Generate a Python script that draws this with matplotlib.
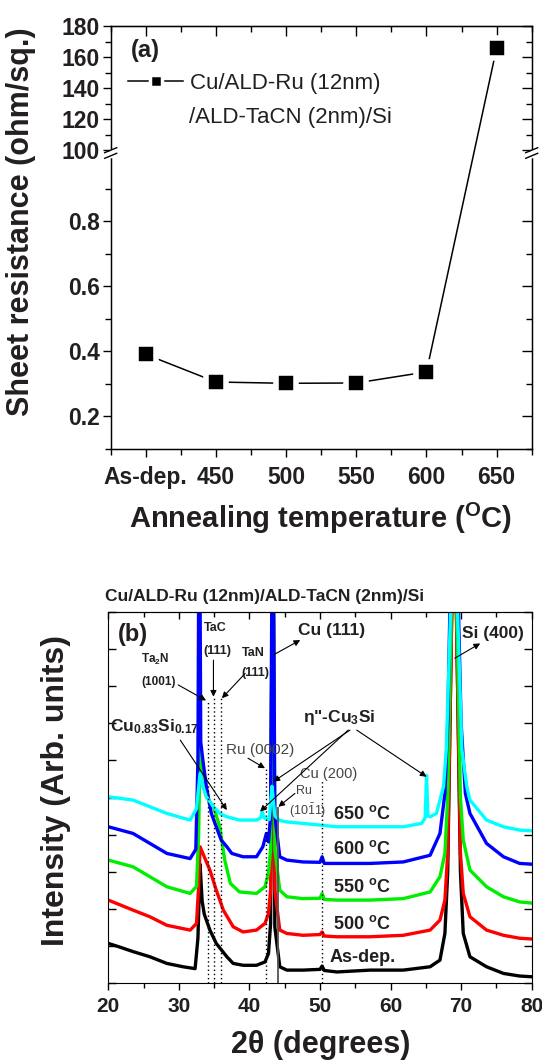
import numpy as np
import matplotlib
matplotlib.use('Agg')
import matplotlib.pyplot as plt
from matplotlib.lines import Line2D
from matplotlib.ticker import FixedLocator, MultipleLocator

plt.rcParams['font.family'] = ['Liberation Sans', 'DejaVu Sans']
plt.rcParams['mathtext.fontset'] = 'custom'
plt.rcParams['mathtext.default'] = 'regular'
plt.rcParams['mathtext.rm'] = 'Liberation Sans'
plt.rcParams['mathtext.bf'] = 'Liberation Sans:bold'

TXT = '#231f20'

# ---- panel (a): sheet resistance ----
temps = [400, 450, 500, 550, 600, 650]
temp_labels = ['As-dep.', '450', '500', '550', '600', '650']
rs = [0.391, 0.306, 0.302, 0.303, 0.337, 165.8]

# ---- panel (b): XRD scans (2theta, intensity offset units) ----
xrd_asdep = [(20.0, 1.06), (21.5, 0.97), (23.5, 0.84), (25.9, 0.70), (28.3, 0.52), (30.6, 0.43),
             (32.3, 0.38), (32.7, 1.2), (33.0, 3.2), (33.3, 2.2), (33.6, 1.85), (34.4, 1.42),
             (35.3, 1.06), (36.8, 0.70), (37.7, 0.52), (39.1, 0.47), (41.0, 0.47), (42.2, 0.56),
             (42.7, 0.79), (43.0, 1.6), (43.3, 14), (43.6, 1.5), (44.3, 0.43), (45.3, 0.34),
             (47.6, 0.34), (50.0, 0.36), (50.3, 0.45), (50.6, 0.33), (52.4, 0.29), (57.1, 0.34),
             (61.8, 0.34), (65.6, 0.43), (67.0, 0.61), (67.7, 1.33), (68.1, 3.0), (68.5, 8),
             (69.0, 14), (69.5, 8), (69.9, 3.0), (70.3, 1.33), (71.25, 0.70), (73.6, 0.43),
             (76.0, 0.25), (78.3, 0.18), (80.0, 0.16)]
xrd_500 = [(20.0, 2.23), (23.5, 1.96), (25.9, 1.78), (28.3, 1.55), (31.6, 1.42), (32.5, 1.6),
           (32.8, 2.6), (33.0, 3.67), (33.4, 3.49), (34.4, 3.04), (35.3, 2.5), (36.3, 1.96),
           (37.7, 1.51), (39.1, 1.37), (41.0, 1.42), (42.2, 1.6), (42.7, 1.87), (43.0, 2.5),
           (43.3, 14), (43.6, 2.5), (44.3, 1.42), (45.3, 1.33), (47.6, 1.28), (50.0, 1.30),
           (50.3, 1.37), (50.6, 1.26), (52.4, 1.24), (57.1, 1.24), (61.8, 1.28), (65.6, 1.42),
           (67.0, 1.69), (67.7, 2.23), (68.1, 3.5), (68.5, 8), (69.0, 14), (69.5, 8), (69.9, 3.5),
           (70.3, 2.41), (71.25, 1.78), (73.6, 1.42), (76.0, 1.28), (78.3, 1.2), (80.0, 1.18)]
xrd_550 = [(20.0, 3.31), (23.5, 3.13), (25.9, 2.86), (28.3, 2.59), (31.6, 2.41), (32.5, 2.6),
           (32.8, 4.0), (33.0, 6.28), (33.3, 5.4), (33.9, 5.02), (34.9, 4.75), (35.8, 4.21),
           (36.5, 3.31), (37.3, 2.68), (38.6, 2.45), (41.0, 2.41), (42.2, 2.59), (42.7, 2.95),
           (43.0, 3.6), (43.3, 14), (43.6, 3.6), (44.3, 2.5), (45.3, 2.32), (47.6, 2.27),
           (50.0, 2.28), (50.3, 2.41), (50.6, 2.25), (52.4, 2.23), (57.1, 2.23), (61.8, 2.27),
           (65.6, 2.45), (67.0, 2.86), (67.7, 3.49), (68.1, 5), (68.5, 9), (69.0, 14), (69.5, 9),
           (69.9, 5), (70.3, 3.85), (71.25, 3.04), (73.6, 2.59), (76.0, 2.32), (78.3, 2.18),
           (80.0, 2.15)]
xrd_600 = [(20.0, 4.21), (23.5, 4.03), (25.9, 3.76), (28.3, 3.49), (31.6, 3.35), (32.4, 3.6),
           (32.7, 6), (32.9, 15), (33.1, 6.5), (33.4, 6.01), (33.9, 5.29), (34.6, 4.57),
           (35.3, 4.21), (36.0, 3.85), (36.8, 3.67), (37.5, 3.49), (39.1, 3.40), (41.0, 3.40),
           (41.9, 3.67), (42.4, 4.03), (42.7, 3.8), (43.0, 4.5), (43.3, 15), (43.6, 4.5),
           (44.3, 3.4), (45.3, 3.31), (47.6, 3.26), (50.0, 3.25), (50.3, 3.40), (50.6, 3.22),
           (52.4, 3.22), (57.1, 3.22), (61.8, 3.26), (65.6, 3.44), (67.0, 4.03), (67.7, 5.11),
           (68.1, 7), (68.5, 11), (69.0, 15), (69.5, 11), (70.0, 7), (70.6, 5.11), (71.25, 4.57),
           (73.6, 3.76), (76.0, 3.4), (78.3, 3.22), (80.0, 3.2)]
xrd_650 = [(20.0, 5.02), (23.5, 4.93), (25.9, 4.75), (28.3, 4.57), (31.6, 4.39), (32.5, 4.7),
           (33.0, 5.65), (33.4, 5.3), (33.9, 5.02), (34.9, 4.75), (35.8, 4.57), (36.8, 4.48),
           (38.6, 4.39), (41.0, 4.39), (41.6, 4.45), (41.8, 4.62), (42.1, 4.45), (42.8, 4.4),
           (43.2, 5.3), (43.4, 4.9), (43.6, 4.5), (44.3, 4.38), (45.3, 4.34), (47.6, 4.3),
           (52.4, 4.21), (57.1, 4.21), (61.8, 4.21), (64.4, 4.3), (64.9, 4.45), (65.1, 5.6),
           (65.3, 4.5), (65.6, 4.48), (66.5, 4.57), (67.5, 5.29), (67.9, 6.3), (68.5, 10),
           (69.0, 15), (69.5, 10), (70.1, 6.3), (70.8, 5.29), (71.25, 4.93), (73.6, 4.39),
           (76.0, 4.21), (78.3, 4.12), (80.0, 4.1)]
scans = [xrd_asdep, xrd_500, xrd_550, xrd_600, xrd_650]
scan_colors = ['black', '#ff0000', '#00ee00', '#0000ff', '#00ffff']
scan_labels = ['As-dep.', '500 $^{o}$C', '550 $^{o}$C', '600 $^{o}$C', '650 $^{o}$C']
scan_label_y = [0.67, 1.59, 2.59, 3.61, 4.55]

# reference lines: Ta2N(1001), TaC(111), TaN(111), Ru(0002), Cu(200)
ref_pos = [34.1, 35.0, 36.0, 42.3, 50.3]
ref_top = [7.62, 7.72, 7.68, 5.8, 5.47]
ru1011_pos, ru1011_top = 44.1, 4.75

W, H = 542, 1061
fig = plt.figure(figsize=(W / 100, H / 100), dpi=100)


def fbox(l, t, r, b):
    return [l / W, 1 - b / H, (r - l) / W, (b - t) / H]


# ---------- panel (a) ----------
LO, GAP, K = 1.01, 0.0092, 0.004769


def fwd(y):
    y = np.asarray(y, float)
    return np.where(y <= LO, y,
                    np.where(y >= 100, LO + GAP + (y - 100) * K,
                             LO + (y - LO) / (100 - LO) * GAP))


def inv(z):
    z = np.asarray(z, float)
    return np.where(z <= LO, z,
                    np.where(z >= LO + GAP, 100 + (z - LO - GAP) / K,
                             LO + (z - LO) / GAP * (100 - LO)))


ymaj = [0.2, 0.4, 0.6, 0.8, 100, 120, 140, 160, 180]
ymin = [0.1, 0.3, 0.5, 0.7, 0.9, 110, 130, 150, 170]

ax1 = fig.add_axes(fbox(110.7, 26, 531.7, 449))
ax1.set_yscale('function', functions=(fwd, inv))
ax1.plot(temps, rs, '-', color='k', lw=1.1, marker='s', ms=14.5, mfc='k',
         mec='white', mew=4, zorder=3)
ax1.set_xlim(375, 675)
ax1.set_ylim(0.1, 180)
ax1.set_xticks(temps)
ax1.set_xticklabels(temp_labels)
ax1.xaxis.set_minor_locator(FixedLocator([375, 425, 475, 525, 575, 625, 675]))
ax1.yaxis.set_major_locator(FixedLocator(ymaj))
ax1.yaxis.set_minor_locator(FixedLocator(ymin))
ax1.set_yticklabels(['0.2', '0.4', '0.6', '0.8', '100', '120', '140', '160', '180'])
ax1.tick_params(which='both', direction='out', width=1, colors='k', labelcolor=TXT,
                labelsize=16.5, top=False, right=False)
ax1.tick_params(which='major', length=6)
ax1.tick_params(which='minor', length=4)
ax1.tick_params(axis='y', pad=2)
ax1.tick_params(axis='x', pad=6)
for lab in ax1.get_xticklabels() + ax1.get_yticklabels():
    lab.set_fontweight('bold')
for s in ax1.spines.values():
    s.set_linewidth(1.0)

ax1r = ax1.twinx()
ax1r.set_yscale('function', functions=(fwd, inv))
ax1r.set_ylim(0.1, 180)
ax1r.yaxis.set_major_locator(FixedLocator(ymaj))
ax1r.yaxis.set_minor_locator(FixedLocator(ymin))
ax1r.tick_params(axis='y', which='both', direction='in', labelright=False, width=1)
ax1r.tick_params(axis='y', which='major', length=7)
ax1r.tick_params(axis='y', which='minor', length=4)
ax1t = ax1.secondary_xaxis('top')
ax1t.set_xticks(temps)
ax1t.xaxis.set_minor_locator(FixedLocator([375, 425, 475, 525, 575, 625, 675]))
ax1t.tick_params(which='both', direction='in', labeltop=False, width=1)
ax1t.tick_params(which='major', length=7)
ax1t.tick_params(which='minor', length=4.5)

handle = Line2D([], [], color='k', lw=1.1, marker='s', ms=9, mfc='k', mec='white', mew=2.5)
ax1.legend([handle], ['Cu/ALD-Ru (12nm)'], loc='center left',
           bbox_to_anchor=((128 - 110.7) / 421, (449 - 83) / 423), frameon=False,
           fontsize=16, handlelength=2.48, handletextpad=0.3, borderpad=0,
           borderaxespad=0, labelcolor=TXT)
ax1.text((189.4 - 110.7) / 421, (449 - 118) / 423, '/ALD-TaCN (2nm)/Si',
         transform=ax1.transAxes, va='center', ha='left', fontsize=16, color=TXT)
ax1.text((131 - 110.7) / 421, (449 - 51) / 423, '(a)', transform=ax1.transAxes,
         va='center', ha='left', fontsize=17, fontweight='bold', color=TXT)

# axis break marks
for xb in (110.7, 531.7):
    fig.add_artist(Line2D([xb / W, xb / W], [1 - 150.5 / H, 1 - 156 / H], color='white',
                          lw=2.5, zorder=20))
    for d in (-2.8, 2.8):
        fig.add_artist(Line2D([(xb - 6) / W, (xb + 6) / W],
                              [1 - (153 + d + 2.5) / H, 1 - (153 + d - 2.5) / H],
                              color='k', lw=1.0, zorder=21))

fig.text(21 / W, 1 - 222 / H, 'Sheet resistance (ohm/sq.)', rotation=90, ha='center',
         va='center', fontsize=22, fontweight='bold', color=TXT)
fig.text(321 / W, 1 - 518 / H, 'Annealing temperature ($^{O}$C)', ha='center',
         va='center', fontsize=21, fontweight='bold', color=TXT)

# ---------- panel (b) ----------
ax2 = fig.add_axes(fbox(108.3, 612.3, 531.7, 982.7))
for pts, c in zip(scans, scan_colors):
    t, i = np.array(pts).T
    ax2.plot(t, i, color=c, lw=2.4)
ax2.vlines(ref_pos, 0, ref_top, colors='k', linestyles=(0, (1, 2)), lw=1.0)
ax2.vlines(ru1011_pos, 0, ru1011_top, colors='#555555', lw=1.3)
ax2.set_xlim(20, 80)
ax2.set_ylim(0, 10)
ax2.xaxis.set_major_locator(MultipleLocator(10))
ax2.xaxis.set_minor_locator(MultipleLocator(5))
ax2.yaxis.set_major_locator(MultipleLocator(1))
ax2.tick_params(axis='x', which='both', direction='out', labelsize=15, labelcolor=TXT,
                width=1, pad=5)
ax2.tick_params(axis='x', which='major', length=5)
ax2.tick_params(axis='x', which='minor', length=3.5)
ax2.tick_params(axis='y', which='both', direction='in', left=True, right=True,
                labelleft=False, length=6, width=1)
for lab in ax2.get_xticklabels():
    lab.set_fontweight('bold')
ax2t = ax2.secondary_xaxis('top')
ax2t.xaxis.set_major_locator(MultipleLocator(10))
ax2t.xaxis.set_minor_locator(MultipleLocator(5))
ax2t.tick_params(which='both', direction='in', labeltop=False, width=1)
ax2t.tick_params(which='major', length=5)
ax2t.tick_params(which='minor', length=3.5)

for lab, yv in zip(scan_labels, scan_label_y):
    ax2.text(56.0, yv, lab, ha='center', va='center', fontsize=13, fontweight='bold',
             color=TXT)

notes = [('(b)', 21.4, 9.39, 17, 'bold', 'left'),
         ('TaC', 35.1, 9.57, 9, 'bold', 'center'),
         ('(111)', 35.5, 8.95, 9, 'bold', 'center'),
         ('TaN', 40.5, 8.91, 9, 'bold', 'center'),
         ('(111)', 40.8, 8.36, 9, 'bold', 'center'),
         ('Ta$_{2}$N', 26.7, 8.74, 8.5, 'bold', 'center'),
         ('(1001)', 27.2, 8.12, 8.5, 'bold', 'center'),
         ('Cu$_{0.83}$Si$_{0.17}$', 20.25, 6.91, 12.5, 'bold', 'left'),
         ('Ru (0002)', 41.5, 6.28, 11, 'normal', 'center'),
         ('Cu (111)', 51.65, 9.52, 12.5, 'bold', 'center'),
         ('Si (400)', 74.5, 9.43, 12.5, 'bold', 'center'),
         ('η"-Cu$_{3}$Si', 52.7, 7.16, 12.5, 'bold', 'center'),
         ('Cu (200)', 51.2, 5.63, 10.5, 'normal', 'center'),
         ('Ru', 47.7, 5.18, 9, 'normal', 'center'),
         ('(10$\\bar{1}$1)', 48.2, 4.64, 9, 'normal', 'center')]
for s, x, y, fs, fw, ha in notes:
    ax2.text(x, y, s, ha=ha, va='center', fontsize=fs, fontweight=fw,
             color=TXT if fw == 'bold' else '#444444')

arrows = [((29.9, 8.04), (33.85, 7.62)),
          ((34.9, 8.71), (34.9, 7.72)),
          ((39.4, 8.35), (36.1, 7.68)),
          ((30.2, 6.55), (36.8, 4.66)),
          ((39.8, 6.06), (42.2, 5.79)),
          ((43.4, 8.85), (47.2, 9.25)),
          ((69.1, 8.76), (72.7, 9.16)),
          ((54.25, 6.82), (43.4, 5.43)),
          ((54.0, 6.82), (41.5, 4.62)),
          ((55.2, 6.82), (65.1, 5.56)),
          ((46.45, 5.11), (44.1, 4.75))]
for tail, tip in arrows:
    ax2.annotate('', xy=tip, xytext=tail,
                 arrowprops=dict(arrowstyle='-|>', color='k', lw=0.8,
                                 mutation_scale=9, shrinkA=0, shrinkB=0))

fig.text(105 / W, 1 - 596 / H, 'Cu/ALD-Ru (12nm)/ALD-TaCN (2nm)/Si', ha='left',
         va='center', fontsize=12.5, fontweight='bold', color=TXT)
fig.text(56 / W, 1 - 790 / H, 'Intensity (Arb. units)', rotation=90, ha='center',
         va='center', fontsize=23, fontweight='bold', color=TXT)
fig.text(320.5 / W, 1 - 1045 / H, '2θ (degrees)', ha='center', va='center',
         fontsize=22, fontweight='bold', color=TXT)

fig.savefig('out.png', dpi=100)
